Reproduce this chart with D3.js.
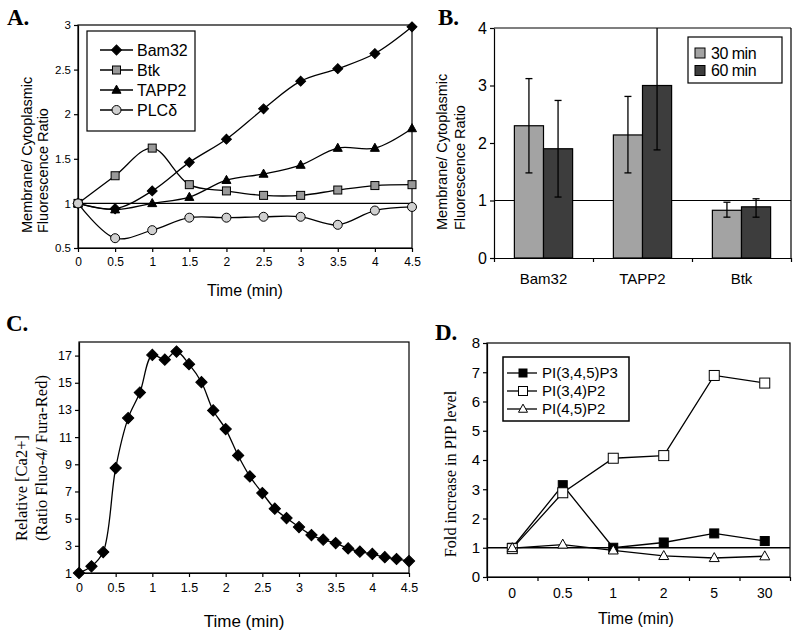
<!DOCTYPE html>
<html><head><meta charset="utf-8">
<script src="https://cdn.jsdelivr.net/npm/d3@7"></script>
<style>body{margin:0;background:#fff}svg{display:block}</style>
</head><body>
<svg id="c" width="800" height="633"></svg>
<script>
// ---------- Panel A data ----------
const timeA = [0, 0.5, 1, 1.5, 2, 2.5, 3, 3.5, 4, 4.5];
const bam32A = [1.0, 0.94, 1.14, 1.46, 1.72, 2.06, 2.37, 2.51, 2.68, 2.98];
const btkA = [1.0, 1.31, 1.62, 1.21, 1.14, 1.09, 1.09, 1.15, 1.20, 1.21];
const tapp2A = [1.0, 0.93, 1.0, 1.07, 1.26, 1.33, 1.43, 1.62, 1.62, 1.84];
const plcA = [1.0, 0.61, 0.70, 0.84, 0.84, 0.85, 0.85, 0.76, 0.92, 0.96];
const seriesNamesA = ["Bam32", "Btk", "TAPP2", "PLCδ"];
const yTicksA = [0.5, 1, 1.5, 2, 2.5, 3];
const xTicksA = [0, 0.5, 1, 1.5, 2, 2.5, 3, 3.5, 4, 4.5];

// ---------- Panel B data ----------
const catsB = ["Bam32", "TAPP2", "Btk"];
const seriesB = ["30 min", "60 min"];
const val30B = [2.30, 2.14, 0.83];
const val60B = [1.90, 3.00, 0.89];
const lo30B = [1.48, 1.48, 0.71];
const hi30B = [3.12, 2.81, 0.97];
const lo60B = [1.06, 1.88, 0.71];
const hi60B = [2.74, 4.00, 1.03];
const yTicksB = [0, 1, 2, 3, 4];

// ---------- Panel C data ----------
const timeC = [0, 0.17, 0.33, 0.5, 0.67, 0.83, 1, 1.17, 1.33, 1.5, 1.67, 1.83, 2, 2.17, 2.33, 2.5, 2.67, 2.83, 3, 3.17, 3.33, 3.5, 3.67, 3.83, 4, 4.17, 4.33, 4.5];
const caC = [1.0, 1.49, 2.54, 8.72, 12.4, 14.28, 17.05, 16.7, 17.3, 16.37, 15.04, 12.96, 11.59, 9.65, 8.11, 6.88, 5.73, 5.04, 4.38, 3.79, 3.45, 3.2, 2.81, 2.57, 2.40, 2.16, 2.03, 1.88];
const yTicksC = [1, 3, 5, 7, 9, 11, 13, 15, 17];
const xTicksC = [0, 0.5, 1, 1.5, 2, 2.5, 3, 3.5, 4, 4.5];

// ---------- Panel D data ----------
const catsD = ["0", "0.5", "1", "2", "5", "30"];
const p345D = [1.0, 3.14, 1.0, 1.18, 1.49, 1.23];
const p34D = [0.97, 2.88, 4.06, 4.15, 6.89, 6.63];
const p45D = [0.99, 1.11, 0.91, 0.72, 0.65, 0.71];
const seriesNamesD = ["PI(3,4,5)P3", "PI(3,4)P2", "PI(4,5)P2"];
const yTicksD = [0, 1, 2, 3, 4, 5, 6, 7, 8];

const SANS = "'Liberation Sans', Arial, sans-serif";
const SERIF = "'Liberation Serif', 'Times New Roman', serif";
const svg = d3.select("#c");

function styleAxis(g, size) {
  g.selectAll("path,line").attr("stroke", "#000").attr("stroke-width", 1.2);
  g.selectAll("text").attr("fill", "#000").style("font-family", SANS).style("font-size", size + "px");
}
function fmt(d) { return String(d); }

// marker helper
function marker(g, type, x, y, opt) {
  const s = opt.s;
  if (type === "diamond") {
    g.append("rect").attr("x", -s / 2).attr("y", -s / 2).attr("width", s).attr("height", s)
      .attr("transform", `translate(${x},${y}) rotate(45)`).attr("fill", opt.fill).attr("stroke", opt.stroke || "#000").attr("stroke-width", 1);
  } else if (type === "square") {
    g.append("rect").attr("x", x - s / 2).attr("y", y - s / 2).attr("width", s).attr("height", s)
      .attr("fill", opt.fill).attr("stroke", "#000").attr("stroke-width", opt.sw || 1);
  } else if (type === "triangle") {
    const h = s * 0.9;
    g.append("path").attr("d", `M${x},${y - h * 0.6}L${x + s / 2},${y + h * 0.4}L${x - s / 2},${y + h * 0.4}Z`)
      .attr("fill", opt.fill).attr("stroke", "#000").attr("stroke-width", opt.sw || 1);
  } else if (type === "circle") {
    g.append("circle").attr("cx", x).attr("cy", y).attr("r", s / 2).attr("fill", opt.fill).attr("stroke", "#000").attr("stroke-width", 1);
  }
}

function panelLetter(t, x, y) {
  svg.append("text").attr("x", x).attr("y", y).text(t)
    .style("font-family", SERIF).style("font-weight", "bold").style("font-size", "23px");
}

// ======================= PANEL A =======================
(function () {
  const g = svg.append("g");
  const x = d3.scaleLinear([0, 4.5], [78, 412]);
  const y = d3.scaleLinear([0.5, 3], [248, 25]);
  // frame
  g.append("rect").attr("x", 78).attr("y", 25).attr("width", 334).attr("height", 223).attr("fill", "none").attr("stroke", "#000").attr("stroke-width", 1.2);
  // reference line at 1
  g.append("line").attr("x1", x(0)).attr("x2", x(4.5)).attr("y1", y(1)).attr("y2", y(1)).attr("stroke", "#000").attr("stroke-width", 1.2);
  const ay = g.append("g").attr("transform", "translate(78,0)").call(d3.axisLeft(y).tickValues(yTicksA).tickFormat(fmt).tickSize(4).tickSizeOuter(0));
  styleAxis(ay, 11.5);
  const ax = g.append("g").attr("transform", "translate(0,248)").call(d3.axisBottom(x).tickValues(xTicksA).tickFormat(fmt).tickSize(4).tickSizeOuter(0));
  styleAxis(ax, 12);
  ax.selectAll("text").attr("dy", "0.9em");

  const series = [
    { v: bam32A, type: "diamond", opt: { s: 7, fill: "#000" } },
    { v: btkA, type: "square", opt: { s: 8, fill: "#999" } },
    { v: tapp2A, type: "triangle", opt: { s: 9, fill: "#000" } },
    { v: plcA, type: "circle", opt: { s: 9, fill: "#d0d0d0" } }
  ];
  const line = d3.line().x((d, i) => x(timeA[i])).y(d => y(d)).curve(d3.curveCatmullRom.alpha(0.5));
  series.forEach(s => {
    g.append("path").attr("d", line(s.v)).attr("fill", "none").attr("stroke", "#000").attr("stroke-width", 1.3);
  });
  series.forEach(s => {
    s.v.forEach((d, i) => marker(g, s.type, x(timeA[i]), y(d), s.opt));
  });
  // legend
  g.append("rect").attr("x", 87).attr("y", 31).attr("width", 108).attr("height", 100).attr("fill", "#fff").attr("stroke", "#000").attr("stroke-width", 1.2);
  series.forEach((s, i) => {
    const ly = 50 + i * 20;
    g.append("line").attr("x1", 100).attr("x2", 133).attr("y1", ly).attr("y2", ly).attr("stroke", "#000").attr("stroke-width", 1.3);
    marker(g, s.type, 116.5, ly, s.opt);
    g.append("text").attr("x", 137).attr("y", ly).attr("dy", "0.36em").text(seriesNamesA[i])
      .style("font-family", SANS).style("font-size", "16px");
  });
  // axis titles
  g.append("text").attr("x", 245).attr("y", 296).attr("text-anchor", "middle").text("Time (min)")
    .style("font-family", SANS).style("font-size", "16px");
  g.append("text").attr("transform", "translate(32,233) rotate(-90)").text("Membrane/ Cytoplasmic")
    .style("font-family", SANS).style("font-size", "14.5px");
  g.append("text").attr("transform", "translate(48,233) rotate(-90)").text("Fluorescence Ratio")
    .style("font-family", SANS).style("font-size", "14.5px");
  panelLetter("A.", 7, 25);
})();

// ======================= PANEL B =======================
(function () {
  const g = svg.append("g");
  const x0 = d3.scaleBand(catsB, [494, 791]).padding(0);
  const x1 = d3.scaleBand(seriesB, [0, x0.bandwidth()]).paddingInner(0).paddingOuter(0.7);
  const y = d3.scaleLinear([0, 4], [258, 28]);
  g.append("line").attr("x1", 494).attr("x2", 791).attr("y1", 28).attr("y2", 28).attr("stroke", "#000").attr("stroke-width", 1.2);
  g.append("line").attr("x1", 791).attr("x2", 791).attr("y1", 28).attr("y2", 258).attr("stroke", "#000").attr("stroke-width", 1.2);
  g.append("line").attr("x1", 494).attr("x2", 791).attr("y1", y(1)).attr("y2", y(1)).attr("stroke", "#000").attr("stroke-width", 1.2);
  const ay = g.append("g").attr("transform", "translate(494,0)").call(d3.axisLeft(y).tickValues(yTicksB).tickFormat(fmt).tickSize(4).tickSizeOuter(0));
  styleAxis(ay, 16);
  const ax = g.append("g").attr("transform", "translate(0,258)").call(d3.axisBottom(x0).tickSize(0).tickSizeOuter(0));
  styleAxis(ax, 15);
  ax.selectAll("text").attr("dy", "1.55em");
  // boundary ticks
  const xb = d3.scaleLinear([0, catsB.length], [494, 791]);
  const axb = g.append("g").attr("transform", "translate(0,258)").call(d3.axisBottom(xb).ticks(catsB.length).tickFormat("").tickSize(4).tickSizeOuter(0));
  styleAxis(axb, 10);
  axb.select(".domain").remove();

  const vals = { "30 min": val30B, "60 min": val60B };
  const los = { "30 min": lo30B, "60 min": lo60B };
  const his = { "30 min": hi30B, "60 min": hi60B };
  const col = { "30 min": "#a3a3a3", "60 min": "#3d3d3d" };
  catsB.forEach((c, i) => {
    seriesB.forEach(s => {
      const bx = x0(c) + x1(s);
      g.append("rect").attr("x", bx).attr("y", y(vals[s][i])).attr("width", x1.bandwidth()).attr("height", y(0) - y(vals[s][i]))
        .attr("fill", col[s]).attr("stroke", "#000").attr("stroke-width", 1.2);
    });
  });
  catsB.forEach((c, i) => {
    seriesB.forEach(s => {
      const cx = x0(c) + x1(s) + x1.bandwidth() / 2;
      g.append("line").attr("x1", cx).attr("x2", cx).attr("y1", y(los[s][i])).attr("y2", y(his[s][i])).attr("stroke", "#000").attr("stroke-width", 1.3);
      [los[s][i], his[s][i]].forEach(v => {
        if (v < 4) g.append("line").attr("x1", cx - 3.5).attr("x2", cx + 3.5).attr("y1", y(v)).attr("y2", y(v)).attr("stroke", "#000").attr("stroke-width", 1.3);
      });
    });
  });
  // legend
  g.append("rect").attr("x", 688).attr("y", 37).attr("width", 94).attr("height", 46).attr("fill", "#fff").attr("stroke", "#000").attr("stroke-width", 1.2);
  seriesB.forEach((s, i) => {
    const ly = 53 + i * 17.5;
    g.append("rect").attr("x", 695).attr("y", ly - 5).attr("width", 10).attr("height", 10).attr("fill", col[s]).attr("stroke", "#000").attr("stroke-width", 1);
    g.append("text").attr("x", 711).attr("y", ly).attr("dy", "0.36em").text(s).style("font-family", SANS).style("font-size", "16px").attr("letter-spacing", "-0.5");
  });
  g.append("text").attr("transform", "translate(447,230) rotate(-90)").text("Membrane/ Cytoplasmic")
    .style("font-family", SANS).style("font-size", "14.5px");
  g.append("text").attr("transform", "translate(465,230) rotate(-90)").text("Fluorescence Ratio")
    .style("font-family", SANS).style("font-size", "14.5px");
  panelLetter("B.", 438, 25);
})();

// ======================= PANEL C =======================
(function () {
  const g = svg.append("g");
  const x = d3.scaleLinear([0, 4.5], [79, 409]);
  const y = d3.scaleLinear([1, 18], [573, 342]);
  g.append("rect").attr("x", 79).attr("y", 342).attr("width", 330).attr("height", 231).attr("fill", "none").attr("stroke", "#000").attr("stroke-width", 1.2);
  const ay = g.append("g").attr("transform", "translate(79,0)").call(d3.axisLeft(y).tickValues(yTicksC).tickFormat(fmt).tickSize(4).tickSizeOuter(0));
  styleAxis(ay, 12.5);
  const ax = g.append("g").attr("transform", "translate(0,573)").call(d3.axisBottom(x).tickValues(xTicksC).tickFormat(fmt).tickSize(4).tickSizeOuter(0));
  styleAxis(ax, 12.5);
  ax.selectAll("text").attr("dy", "0.95em");
  const line = d3.line().x((d, i) => x(timeC[i])).y(d => y(d)).curve(d3.curveCatmullRom.alpha(0.5));
  g.append("path").attr("d", line(caC)).attr("fill", "none").attr("stroke", "#000").attr("stroke-width", 1.3);
  caC.forEach((d, i) => marker(g, "diamond", x(timeC[i]), y(d), { s: 8, fill: "#000" }));
  g.append("text").attr("x", 244).attr("y", 627).attr("text-anchor", "middle").text("Time (min)")
    .style("font-family", SANS).style("font-size", "17px");
  g.append("text").attr("transform", "translate(27,541) rotate(-90)").text("Relative [Ca2+]")
    .style("font-family", SERIF).style("font-size", "16.5px");
  g.append("text").attr("transform", "translate(47,541) rotate(-90)").text("(Ratio Fluo-4/ Fura-Red)")
    .style("font-family", SERIF).style("font-size", "16.5px");
  panelLetter("C.", 6, 331);
})();

// ======================= PANEL D =======================
(function () {
  const g = svg.append("g");
  const x = d3.scaleBand(catsD, [487, 790]).padding(0);
  const y = d3.scaleLinear([0, 8], [577, 343]);
  g.append("rect").attr("x", 487).attr("y", 343).attr("width", 303).attr("height", 234).attr("fill", "none").attr("stroke", "#000").attr("stroke-width", 1.2);
  g.append("line").attr("x1", 487).attr("x2", 790).attr("y1", y(1)).attr("y2", y(1)).attr("stroke", "#000").attr("stroke-width", 1.3);
  const ay = g.append("g").attr("transform", "translate(487,0)").call(d3.axisLeft(y).tickValues(yTicksD).tickFormat(fmt).tickSize(4).tickSizeOuter(0));
  styleAxis(ay, 15);
  const ax = g.append("g").attr("transform", "translate(0,577)").call(d3.axisBottom(x).tickSize(0).tickSizeOuter(0));
  styleAxis(ax, 14);
  ax.selectAll("text").attr("dy", "1.25em");
  const xb = d3.scaleLinear([0, catsD.length], [487, 790]);
  const axb = g.append("g").attr("transform", "translate(0,577)").call(d3.axisBottom(xb).ticks(catsD.length).tickFormat("").tickSize(4).tickSizeOuter(0));
  styleAxis(axb, 10);
  axb.select(".domain").remove();

  const cx = c => x(c) + x.bandwidth() / 2;
  const series = [
    { v: p345D, type: "square", opt: { s: 9, fill: "#000" } },
    { v: p34D, type: "square", opt: { s: 10, fill: "#fff" } },
    { v: p45D, type: "triangle", opt: { s: 10, fill: "#fff" } }
  ];
  const line = d3.line().x((d, i) => cx(catsD[i])).y(d => y(d));
  series.forEach(s => {
    g.append("path").attr("d", line(s.v)).attr("fill", "none").attr("stroke", "#000").attr("stroke-width", 1.3);
    s.v.forEach((d, i) => marker(g, s.type, cx(catsD[i]), y(d), s.opt));
  });
  // legend
  g.append("rect").attr("x", 503).attr("y", 357).attr("width", 126).attr("height", 64).attr("fill", "#fff").attr("stroke", "#000").attr("stroke-width", 1.5);
  series.forEach((s, i) => {
    const ly = 373 + i * 18;
    g.append("line").attr("x1", 507).attr("x2", 537).attr("y1", ly).attr("y2", ly).attr("stroke", "#000").attr("stroke-width", 1.3);
    marker(g, s.type, 523, ly, { s: s.opt.s - 1, fill: s.opt.fill });
    g.append("text").attr("x", 542).attr("y", ly).attr("dy", "0.36em").text(seriesNamesD[i])
      .style("font-family", SANS).style("font-size", "15px");
  });
  g.append("text").attr("x", 636).attr("y", 624).attr("text-anchor", "middle").text("Time (min)")
    .style("font-family", SANS).style("font-size", "16px");
  g.append("text").attr("transform", "translate(456,474) rotate(-90)").attr("text-anchor", "middle").text("Fold increase in PIP level")
    .style("font-family", SERIF).style("font-size", "16.3px");
  panelLetter("D.", 435, 340);
})();
</script>
</body></html>
